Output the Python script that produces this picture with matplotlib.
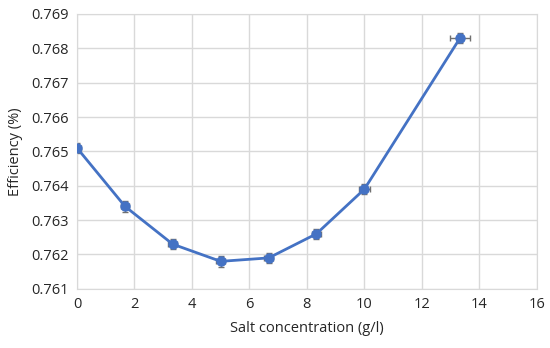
import matplotlib
matplotlib.use("Agg")
import matplotlib.pyplot as plt

plt.rcParams['font.family'] = ['Open Sans', 'DejaVu Sans']

salt = [0, 1.67, 3.33, 5.0, 6.67, 8.33, 10.0, 13.33]
efficiency = [0.7651, 0.7634, 0.7623, 0.7618, 0.7619, 0.7626, 0.7639, 0.7683]
y_err = [0.00015, 0.00015, 0.00015, 0.00015, 0.00015, 0.00015, 0.00015, 0.00015]
x_err = [0.15, 0.15, 0.15, 0.15, 0.15, 0.15, 0.2, 0.35]

fig = plt.figure(figsize=(5.5, 3.48), dpi=100)
ax = fig.add_axes([0.14, 0.17, 0.836, 0.79])

ax.errorbar(salt, efficiency, xerr=x_err, yerr=y_err, fmt='none',
            ecolor='#707070', elinewidth=1, capsize=2.5, capthick=1, zorder=2)
ax.plot(salt, efficiency, color='#4472c4', linewidth=2, marker='o',
        markersize=6.5, zorder=3)

ax.set_xlim(0, 16)
ax.set_ylim(0.761, 0.769)
ax.set_xticks(range(0, 17, 2))
ax.set_yticks([0.761 + 0.001 * i for i in range(9)])
ax.set_yticklabels(['%.3f' % (0.761 + 0.001 * i) for i in range(9)])

ax.grid(True, color='#d9d9d9', linewidth=1)
ax.set_axisbelow(True)
for s in ax.spines.values():
    s.set_color('#d9d9d9')
ax.tick_params(length=0, labelsize=10.5, colors='#262626', pad=6)

ax.set_xlabel('Salt concentration (g/l)', fontsize=10.5, color='#262626', labelpad=6)
ax.set_ylabel('Efficiency (%)', fontsize=10.5, color='#262626', labelpad=6)

fig.savefig('out.png', dpi=100)
